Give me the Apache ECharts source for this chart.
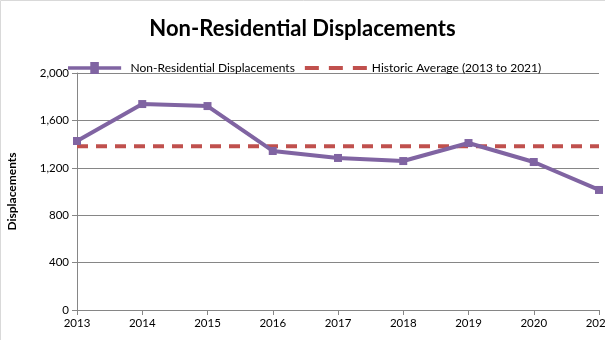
<!DOCTYPE html>
<html><head><meta charset="utf-8">
<script src="https://cdn.jsdelivr.net/npm/echarts@6/dist/echarts.min.js"></script>
<style>html,body{margin:0;padding:0;background:#fff}#c{width:605px;height:340px}</style>
</head><body><div id="c"></div>
<script>
var years = ['2013','2014','2015','2016','2017','2018','2019','2020','2021'];
var displacements = [1426, 1738, 1721, 1342, 1283, 1257, 1409, 1249, 1013];
var historicAverage = [1382, 1382, 1382, 1382, 1382, 1382, 1382, 1382, 1382];
var yTicks = [0, 400, 800, 1200, 1600, 2000];

var chart = echarts.init(document.getElementById('c'), null, {renderer:'canvas'});
var font = 'Lato, "Liberation Sans", sans-serif';
chart.setOption({
  animation:false,
  textStyle:{fontFamily:font},
  title:{text:'Non-Residential Displacements', left:'center', top:13,
    textStyle:{fontFamily:font, fontSize:22, fontWeight:'bold', color:'#000'}},
  graphic:[{type:'rect', shape:{x:0.5,y:0.5,width:700,height:500}, style:{fill:'none', stroke:'#d9d9d9', lineWidth:1}, silent:true}],
  legend:{top:62, left:68, padding:0, itemGap:10, itemWidth:62, itemHeight:12,
    textStyle:{fontFamily:font, fontSize:12, color:'#000'},
    data:[{name:'Non-Residential Displacements', icon:'path://M0,5h26v-5h10v5h26v4h-26v5h-10v-5h-26z'},
          {name:'Historic Average (2013 to 2021)', icon:'path://M0,4h14v4h-14zM24,4h14v4h-14zM48,4h14v4h-14z'}]},
  grid:{left:77, right:6, top:73, bottom:30, containLabel:false, outerBoundsMode:'none'},
  xAxis:{type:'category', data:years, boundaryGap:false,
    axisLine:{lineStyle:{color:'#868686'}},
    axisTick:{alignWithLabel:true, length:5, lineStyle:{color:'#868686'}},
    axisLabel:{color:'#000', fontSize:11.5, margin:7, fontFamily:font, hideOverlap:false},
  },
  yAxis:{type:'value', min:0, max:2000, interval:400,
    name:'Displacements', nameLocation:'middle', nameGap:59,
    nameTextStyle:{fontFamily:font, fontSize:12, fontWeight:'bold', color:'#000'},
    axisLine:{show:true, lineStyle:{color:'#868686'}},
    axisTick:{show:true, length:5, lineStyle:{color:'#868686'}},
    axisLabel:{color:'#000', fontSize:11.5, margin:8, fontFamily:font,
      formatter:function(v){return yTicks.indexOf(v)>=0 ? v.toLocaleString('en-US') : '';}},
    splitLine:{lineStyle:{color:'#868686', width:1}}},
  series:[
    {name:'Non-Residential Displacements', type:'line', data:displacements,
     symbol:'rect', symbolSize:8, showSymbol:true,
     lineStyle:{color:'#8064a2', width:4}, itemStyle:{color:'#8064a2'}, z:3},
    {name:'Historic Average (2013 to 2021)', type:'line', data:historicAverage,
     symbol:'none', lineStyle:{color:'#c0504d', width:4, type:[11,8]}, itemStyle:{color:'#c0504d'}, z:2}
  ]
});
</script></body></html>
